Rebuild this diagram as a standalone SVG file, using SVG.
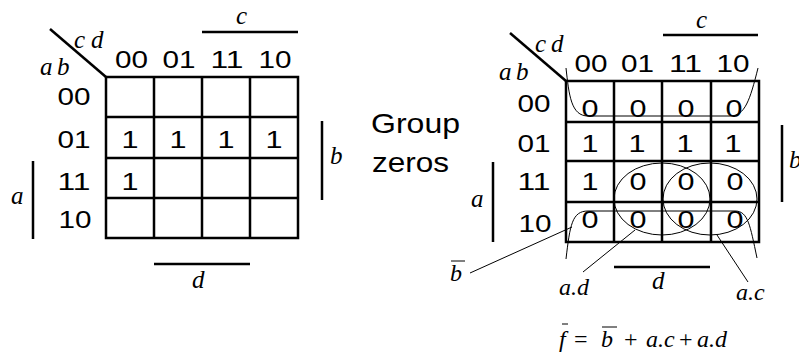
<svg xmlns="http://www.w3.org/2000/svg" width="799" height="354" viewBox="0 0 799 354">
<style>
.bg{fill:#fff}
.g{fill:none;stroke:#000;stroke-width:2.5}
.t{fill:none;stroke:#000;stroke-width:1}
.d{font-family:"Liberation Sans",Arial,sans-serif;font-size:23px;text-anchor:middle;fill:#000}
.s{font-family:"Liberation Sans",Arial,sans-serif;font-size:28px;fill:#000}
.i{font-family:"Liberation Serif","Times New Roman",serif;font-style:italic;font-size:25px;fill:#000}
.e{font-family:"Liberation Serif","Times New Roman",serif;font-style:italic;font-size:24px;fill:#000}
.r{font-family:"Liberation Serif","Times New Roman",serif;font-size:24px;fill:#000}
</style>
<rect class="bg" x="0" y="0" width="799" height="354"/>

<g id="kmap-left">
  <path class="g" d="M106 77H298V238H106Z M154 77V238 M202 77V238 M250 77V238 M106 117H298 M106 158H298 M106 198H298"/>
  <path class="g" d="M50 29L106 77"/>
  <text class="i" x="74" y="48">c</text><text class="i" x="91" y="48">d</text>
  <text class="i" x="40" y="75">a</text><text class="i" x="57" y="75">b</text>
  <g class="d">
    <text x="131.5" y="68" textLength="33" lengthAdjust="spacingAndGlyphs">00</text>
    <text x="179" y="68" textLength="33" lengthAdjust="spacingAndGlyphs">01</text>
    <text x="227" y="68" textLength="33" lengthAdjust="spacingAndGlyphs">11</text>
    <text x="275" y="68" textLength="33" lengthAdjust="spacingAndGlyphs">10</text>
    <text x="74" y="105" textLength="33" lengthAdjust="spacingAndGlyphs">00</text>
    <text x="74" y="148" textLength="33" lengthAdjust="spacingAndGlyphs">01</text>
    <text x="74" y="190" textLength="33" lengthAdjust="spacingAndGlyphs">11</text>
    <text x="75" y="228" textLength="33" lengthAdjust="spacingAndGlyphs">10</text>
    <text x="130" y="148" textLength="17" lengthAdjust="spacingAndGlyphs">1</text>
    <text x="178" y="148" textLength="17" lengthAdjust="spacingAndGlyphs">1</text>
    <text x="226" y="148" textLength="17" lengthAdjust="spacingAndGlyphs">1</text>
    <text x="274" y="148" textLength="17" lengthAdjust="spacingAndGlyphs">1</text>
    <text x="130" y="190" textLength="17" lengthAdjust="spacingAndGlyphs">1</text>
  </g>
  <path class="g" d="M202 32H298 M322 121V200 M33 161V239 M154 264H250"/>
  <text class="i" x="236" y="24">c</text>
  <text class="i" x="330" y="164">b</text>
  <text class="i" x="11" y="204">a</text>
  <text class="i" x="192" y="288">d</text>
</g>

<g id="label-group-zeros">
  <text class="s" x="371" y="133" textLength="89" lengthAdjust="spacingAndGlyphs">Group</text>
  <text class="s" x="372" y="172" textLength="77" lengthAdjust="spacingAndGlyphs">zeros</text>
</g>

<g id="kmap-right">
  <path class="g" d="M566 81H759V242H566Z M614 81V242 M662 81V242 M711 81V242 M566 122H759 M566 161H759 M566 202H759"/>
  <path class="g" d="M510 33L566 81"/>
  <text class="i" x="535" y="52">c</text><text class="i" x="551" y="52">d</text>
  <text class="i" x="499" y="80">a</text><text class="i" x="516" y="80">b</text>
  <g class="d">
    <text x="591" y="72" textLength="33" lengthAdjust="spacingAndGlyphs">00</text>
    <text x="637.5" y="72" textLength="33" lengthAdjust="spacingAndGlyphs">01</text>
    <text x="685.5" y="72" textLength="33" lengthAdjust="spacingAndGlyphs">11</text>
    <text x="733" y="72" textLength="33" lengthAdjust="spacingAndGlyphs">10</text>
    <text x="534" y="112" textLength="33" lengthAdjust="spacingAndGlyphs">00</text>
    <text x="534" y="152" textLength="33" lengthAdjust="spacingAndGlyphs">01</text>
    <text x="534" y="190" textLength="33" lengthAdjust="spacingAndGlyphs">11</text>
    <text x="535" y="232" textLength="33" lengthAdjust="spacingAndGlyphs">10</text>
    <text x="590" y="117" textLength="17" lengthAdjust="spacingAndGlyphs">0</text>
    <text x="638" y="117" textLength="17" lengthAdjust="spacingAndGlyphs">0</text>
    <text x="686" y="117" textLength="17" lengthAdjust="spacingAndGlyphs">0</text>
    <text x="734" y="117" textLength="17" lengthAdjust="spacingAndGlyphs">0</text>
    <text x="590" y="152" textLength="17" lengthAdjust="spacingAndGlyphs">1</text>
    <text x="637" y="152" textLength="17" lengthAdjust="spacingAndGlyphs">1</text>
    <text x="685" y="152" textLength="17" lengthAdjust="spacingAndGlyphs">1</text>
    <text x="733" y="152" textLength="17" lengthAdjust="spacingAndGlyphs">1</text>
    <text x="590" y="190" textLength="17" lengthAdjust="spacingAndGlyphs">1</text>
    <text x="638" y="190" textLength="17" lengthAdjust="spacingAndGlyphs">0</text>
    <text x="686" y="190" textLength="17" lengthAdjust="spacingAndGlyphs">0</text>
    <text x="735" y="190" textLength="17" lengthAdjust="spacingAndGlyphs">0</text>
    <text x="590" y="228" textLength="17" lengthAdjust="spacingAndGlyphs">0</text>
    <text x="638" y="228" textLength="17" lengthAdjust="spacingAndGlyphs">0</text>
    <text x="686" y="228" textLength="17" lengthAdjust="spacingAndGlyphs">0</text>
    <text x="735" y="228" textLength="17" lengthAdjust="spacingAndGlyphs">0</text>
  </g>
  <path class="g" d="M663 35H758 M782 125V202 M493 162V242 M614 267H710"/>
  <text class="i" x="696" y="28">c</text>
  <text class="i" x="789" y="168">b</text>
  <text class="i" x="471" y="207">a</text>
  <text class="i" x="652" y="289">d</text>
</g>

<g id="connectors">
  <path class="t" d="M566 68C569 95 571 116 588 116L730 116C745 116 750 100 758 68"/>
  <path class="t" d="M566 259C570 225 572 211 588 211L735 211C748 211 750 225 757 258"/>
  <ellipse class="t" cx="662" cy="199" rx="48" ry="36"/>
  <ellipse class="t" cx="710" cy="199" rx="47" ry="36"/>
  <path class="t" d="M470 273L572 227 M583 272L635 230 M717 235L748 282"/>
</g>

<g id="labels">
  <text class="e" x="450" y="281">b</text>
  <path class="t" d="M451 261H465"/>
  <text class="e" x="559" y="295">a.d</text>
  <text class="e" x="736" y="300">a.c</text>
</g>

<g id="equation">
  <text class="e" x="559" y="347">f</text>
  <path class="t" d="M562 324H568"/>
  <text class="r" x="574" y="347">=</text>
  <text class="e" x="601" y="347">b</text>
  <path class="t" d="M602 327H617"/>
  <text class="r" x="624" y="347">+</text>
  <text class="e" x="646" y="347">a.c</text>
  <text class="r" x="679" y="347">+</text>
  <text class="e" x="697" y="347">a.d</text>
</g>
</svg>
